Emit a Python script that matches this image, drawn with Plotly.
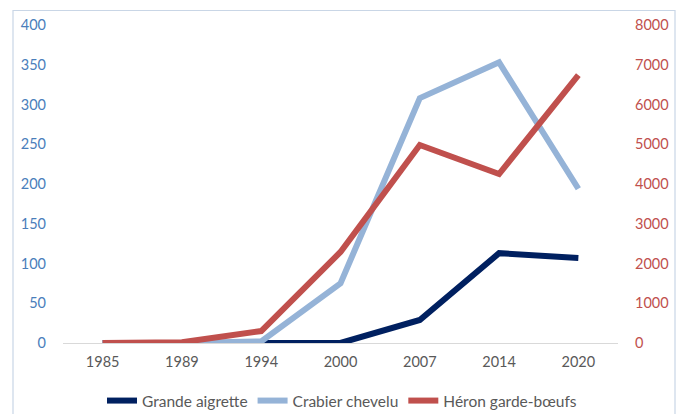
import plotly.graph_objects as go

years = ["1985", "1989", "1994", "2000", "2007", "2014", "2020"]
grande_aigrette = [0, 0, 0, 0, 29, 113, 107]
crabier_chevelu = [0, 0, 2, 75, 308, 353, 194]
heron_garde_boeufs = [0, 20, 300, 2290, 4980, 4250, 6740]

FONT = "Lato"
FS = 14.5
fig = go.Figure()
fig.add_trace(go.Scatter(x=years, y=grande_aigrette, name="Grande aigrette",
                         mode="lines", line=dict(color="#002060", width=6)))
fig.add_trace(go.Scatter(x=years, y=crabier_chevelu, name="Crabier chevelu",
                         mode="lines", line=dict(color="#95b3d7", width=6)))
fig.add_trace(go.Scatter(x=years, y=heron_garde_boeufs, name="Héron garde-bœufs",
                         mode="lines", line=dict(color="#c0504d", width=6),
                         yaxis="y2"))

fig.update_layout(
    width=684, height=414,
    margin=dict(l=63, r=66, t=25, b=71, autoexpand=False),
    paper_bgcolor="white", plot_bgcolor="white",
    font=dict(family=FONT, size=FS, color="#595959"),
    showlegend=True,
    legend=dict(orientation="h", x=0.5, xanchor="center", xref="container",
                y=1 - 401 / 414, yanchor="middle", yref="container",
                font=dict(size=15.5, color="#595959"),
                tracegroupgap=0, itemclick=False),
    xaxis=dict(type="category", range=[-0.5, 6.5], showgrid=False, zeroline=False,
               showline=True, linecolor="#d9d9d9", linewidth=1,
               ticks="", tickfont=dict(size=FS, color="#595959"),
               ticklabelstandoff=6),
    yaxis=dict(range=[0, 400], dtick=50, showgrid=False, zeroline=False,
               showline=False, ticks="", tickfont=dict(size=FS, color="#4a7ebb"),
               ticklabelstandoff=16),
    yaxis2=dict(range=[0, 8000], dtick=1000, overlaying="y", side="right",
                showgrid=False, zeroline=False, showline=False, ticks="",
                tickfont=dict(size=FS, color="#c0504d"), ticklabelstandoff=16),
    shapes=[dict(type="rect", xref="paper", yref="paper",
                 x0=(13 - 63) / 555, x1=(675 - 63) / 555,
                 y0=-0.3, y1=(343 - 10.5) / 318,
                 line=dict(color="#c9d6e6", width=1.2), layer="below")],
)

fig.write_html("out.html")
